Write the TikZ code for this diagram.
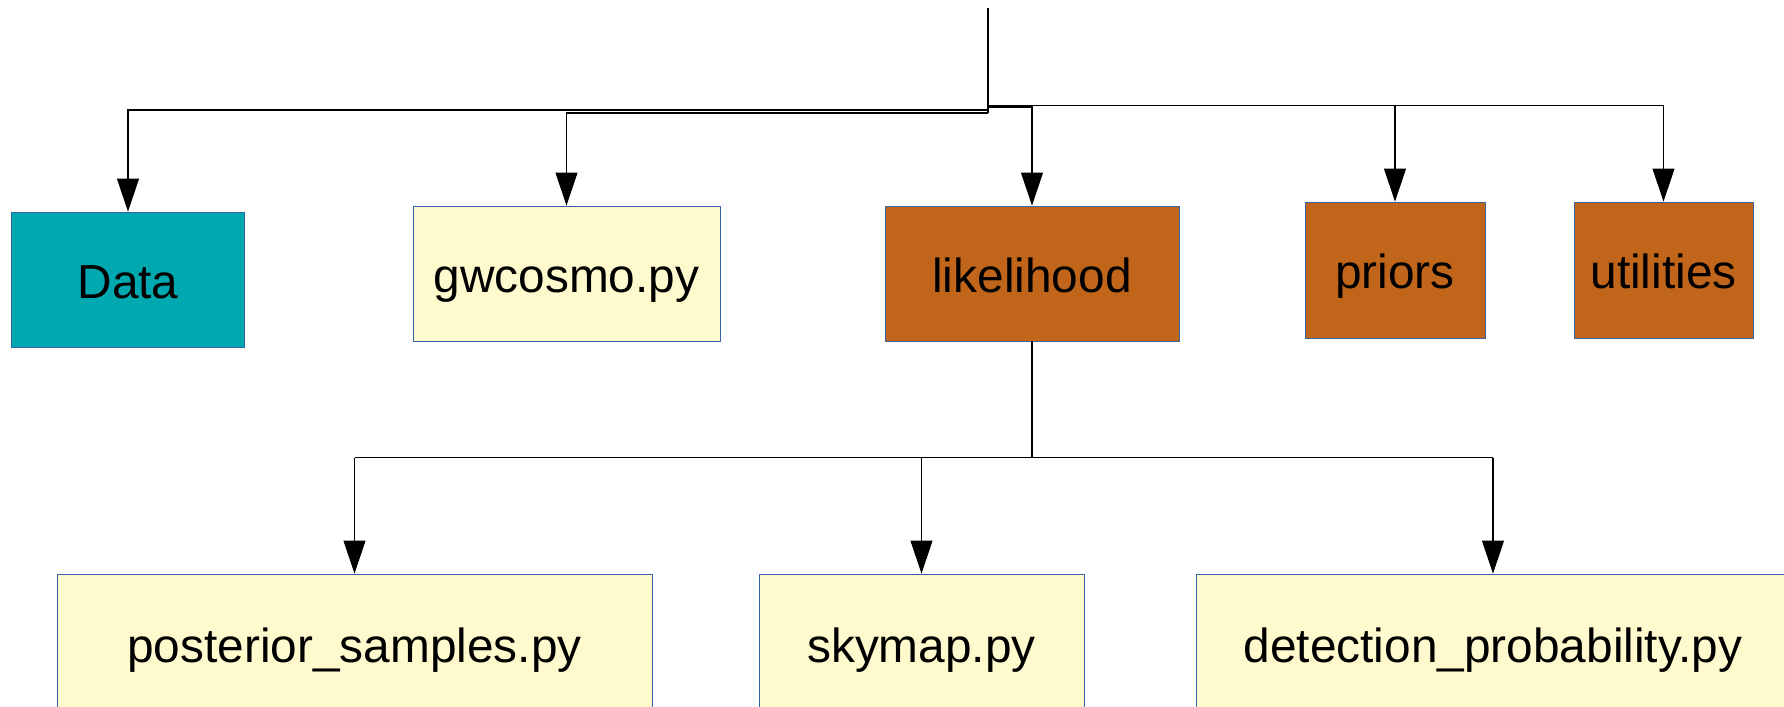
\documentclass[tikz,border=0pt]{standalone}
\usepackage{fontspec}
\setmainfont{Liberation Sans}
\usetikzlibrary{arrows.meta}
\definecolor{tealfill}{HTML}{00A9B0}
\definecolor{creamfill}{HTML}{FFFACD}
\definecolor{brownfill}{HTML}{C0651A}
\definecolor{edgeblue}{HTML}{3465A4}
\begin{document}
\begin{tikzpicture}[x=0.1mm,y=-0.1mm,
  box/.style={draw=edgeblue, line width=0.25pt, inner sep=0pt,
    text height=3.8mm, text depth=0mm,
    font=\fontsize{13.6}{16}\selectfont, text=black},
  datab/.style={box, fill=tealfill},
  fileb/.style={box, fill=creamfill},
  pkgb/.style={box, fill=brownfill},
  wire/.style={draw=black, line width=0.3pt},
  link/.style={wire, -{Triangle[length=3.3mm,width=2.2mm]}}]
\useasboundingbox (0,0) rectangle (1784,707);
\clip (0,0) rectangle (1784,707);

% top level modules
\node[datab, minimum width=23.3mm, minimum height=13.5mm] (data) at (128,279.5) {Data};
\node[fileb, minimum width=30.7mm, minimum height=13.5mm] (gwcosmo) at (566.5,273.5) {gwcosmo.py};
\node[pkgb, minimum width=29.4mm, minimum height=13.5mm] (lik) at (1032,273.5) {likelihood};
\node[pkgb, minimum width=18.0mm, minimum height=13.6mm] (priors) at (1395,270) {priors};
\node[pkgb, minimum width=17.9mm, minimum height=13.6mm] (util) at (1663.5,270) {utilities};

% likelihood submodules
\node[fileb, minimum width=59.5mm, minimum height=14mm] (post) at (354.5,644) {posterior\_samples.py};
\node[fileb, minimum width=32.5mm, minimum height=14mm] (sky) at (921.5,644) {skymap.py};
\node[fileb, minimum width=59.4mm, minimum height=14mm] (det) at (1493,644) {detection\_probability.py};

% root tree
\coordinate (root) at (988,8);
\coordinate (jdata) at (988,110);
\coordinate (jgw) at (988,113);
\coordinate (jlik) at (988,107);
\coordinate (jright) at (988,105.7);
\draw[wire] (root) -- (jgw);
\draw[link] (jdata) -| (data.north);
\draw[link] (jgw) -| (gwcosmo.north);
\draw[link] (jlik) -| (lik.north);
\draw[wire] (jright) -| (util.north |- jright);
\draw[link] (priors.north |- jright) -- (priors.north);
\draw[link] (util.north |- jright) -- (util.north);

% likelihood tree
\coordinate (jsub) at (1032,457.7);
\draw[wire] (lik.south) -- (jsub);
\draw[wire] (post.north |- jsub) -- (det.north |- jsub);
\draw[link] (post.north |- jsub) -- (post.north);
\draw[link] (sky.north |- jsub) -- (sky.north);
\draw[link] (det.north |- jsub) -- (det.north);
\end{tikzpicture}
\end{document}
